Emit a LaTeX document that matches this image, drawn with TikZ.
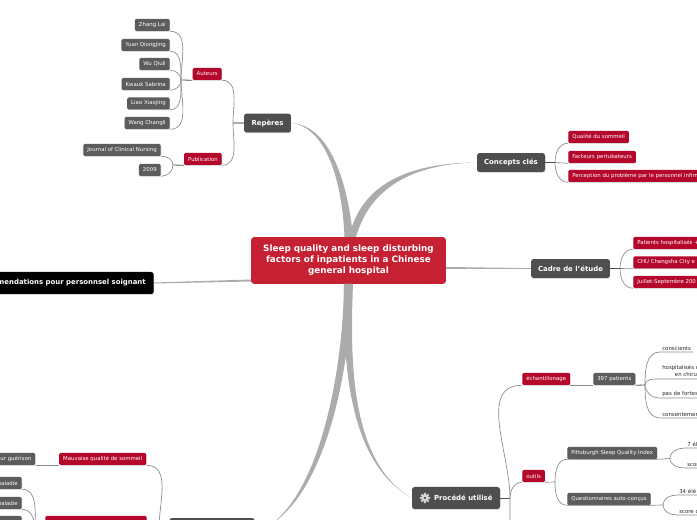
\documentclass[tikz,border=0pt]{standalone}
\usepackage{fontspec}
\setmainfont{DejaVu Sans}
\usepackage{xcolor}
\usepackage{tikz}
\usetikzlibrary{calc,shadows}
\definecolor{cRoot}{HTML}{C62033}
\definecolor{cRed}{HTML}{B5062C}
\definecolor{cSlate}{HTML}{4E4E4C}
\definecolor{cLeaf}{HTML}{5C5C5C}
\definecolor{cTrunk}{HTML}{ABADAB}
\definecolor{cLimb}{HTML}{8A8A8A}
\tikzset{
  softshadow/.style={drop shadow={shadow xshift=0.2pt,shadow yshift=-0.5pt,opacity=0.22,fill=black}},
  rootbox/.style={fill=cRoot,text=white,rounded corners=2.5pt,font=\fontsize{6.6}{8.3}\selectfont\bfseries,align=center,minimum width=146.2pt,minimum height=35.2pt,inner sep=0pt},
  topicbox/.style={fill=cSlate,text=white,rounded corners=2pt,font=\fontsize{5.2}{6}\selectfont\bfseries,minimum height=14.2pt,inner xsep=5pt,inner ysep=0pt,softshadow},
  redbox/.style={fill=cRed,text=white,rounded corners=1pt,font=\fontsize{4.05}{4.7}\selectfont,minimum height=9pt,inner xsep=3pt,inner ysep=0pt,softshadow},
  leafbox/.style={fill=cLeaf,text=white,rounded corners=1pt,font=\fontsize{4.05}{4.7}\selectfont,minimum height=9pt,inner xsep=3pt,inner ysep=0pt,softshadow},
  plainbox/.style={text=black!85,font=\fontsize{4.05}{4.6}\selectfont,align=left,inner xsep=1.5pt,inner ysep=1.2pt},
  trunk/.style={fill=cTrunk,draw=none},
  limb/.style={draw=cLimb,line width=0.5pt},
  stub/.style={draw=cSlate,line width=0.6pt},
}
\begin{document}
\begin{tikzpicture}[x=0.75pt,y=-0.75pt]
  \useasboundingbox (0,0) rectangle (697,520);
  \clip (0,0) rectangle (697,520);
  % main nodes
  \node[rootbox] (root) at (348.5,260.5) {Sleep quality and sleep disturbing\\factors of inpatients in a Chinese\\general hospital};
  \node[topicbox,minimum width=35.2pt] (reperes) at (267.5,123) {Repères};
  \node[topicbox,minimum width=51pt] (concepts) at (511,162.5) {Concepts clés};
  \node[topicbox,minimum width=59.2pt] (cadre) at (570.5,268.5) {Cadre de l'étude};
  \node[topicbox,minimum width=66pt,minimum height=16.5pt,inner xsep=0pt] (procede) at (456,498) {\hspace{11pt}Procédé utilisé};
  \node[topicbox,fill=black,minimum height=16.5pt,inner xsep=6pt,anchor=east] (recos) at (154,283) {Recommendations pour personnsel soignant};
  \node[topicbox,minimum width=64pt,minimum height=14.2pt] (analyse) at (212,527.5) {};
  % gear of the method node
  \fill[white!85!black] (425,498) circle (3.9);
  \foreach \a in {0,45,...,315}
    \fill[white!85!black] ($(425,498)+(\a-14:3.5)$) -- ($(425,498)+(\a-10:5.2)$) -- ($(425,498)+(\a+10:5.2)$) -- ($(425,498)+(\a+14:3.5)$) -- cycle;
  \fill[cSlate] (425,498) circle (1.3);
  % big branches
  \fill[trunk] (344.5,237) .. controls (342,178) and (325,127) .. (reperes.east) .. controls (327,125) and (347,175) .. (353,237) -- cycle;
  \fill[trunk] (349,237) .. controls (361,184) and (408,163) .. (concepts.west) .. controls (412,164) and (370,188) .. (356,237) -- cycle;
  \fill[trunk] (root.east |- 0,267) -- ($(cadre.west)+(0,-0.4)$) -- ($(cadre.west)+(0,0.4)$) -- (root.east |- 0,269) -- cycle;
  \fill[trunk] (root.west |- 0,279.5) -- ($(recos.east)+(0,-0.5)$) -- ($(recos.east)+(0,0.5)$) -- (root.west |- 0,281.5) -- cycle;
  \fill[trunk] (344,284) .. controls (343,360) and (347,462) .. (procede.west) .. controls (350,462) and (350,360) .. (353,284) -- cycle;
  \fill[trunk] (344,284) .. controls (343,372) and (320,490) .. (270,525) .. controls (326,490) and (350,372) .. (352,284) -- cycle;
  % Reperes side
  \node[redbox,anchor=east] (auteurs) at (222,74) {Auteurs};
  \node[redbox,anchor=east] (publi) at (222,159) {Publication};
  \node[leafbox,anchor=east] (zhang) at (170,25) {Zhang Lai};
  \node[leafbox,anchor=east] (yuan) at (170,45) {Yuan Qiongjing};
  \node[leafbox,anchor=east] (wu) at (170,64) {Wu Qiuli};
  \node[leafbox,anchor=east] (kwauk) at (170,84) {Kwauk Sabrina};
  \node[leafbox,anchor=east] (liao) at (170,103.5) {Liao Xiaojing};
  \node[leafbox,anchor=east] (wang) at (170,123) {Wang Changli};
  \node[leafbox,anchor=east] (journal) at (161,150) {Journal of Clinical Nursing};
  \node[leafbox,anchor=east] (annee) at (161,170) {2009};
  \coordinate (hubRep) at (233,123);
  \coordinate (hubAut) at (181,80);
  \coordinate (hubPub) at (173,165);
  \draw[draw=cTrunk,line width=0.9pt] (reperes.west) -- (hubRep);
  \draw[limb] (auteurs.south east) to[out=0,in=90] (hubRep);
  \draw[limb] (publi.south east) to[out=0,in=-90] (hubRep);
  \draw[stub] (auteurs.south west) -- (hubAut);
  \draw[stub] (publi.south west) -- (hubPub);
  \foreach \n in {zhang,yuan,wu}
    \draw[limb] (\n.south east) to[out=0,in=90] (hubAut);
  \foreach \n in {kwauk,liao,wang}
    \draw[limb] (\n.south east) to[out=0,in=-90] (hubAut);
  \draw[limb] (journal.south east) to[out=0,in=90] (hubPub);
  \draw[limb] (annee.south east) to[out=0,in=-90] (hubPub);
  % Concepts and Cadre
  \node[redbox,anchor=west] (qualite) at (568,137) {Qualité du sommeil};
  \node[redbox,anchor=west] (facteurs) at (568,157) {Facteurs pertubateurs};
  \node[redbox,anchor=west] (percep) at (568,176) {Perception du problème par le personnel infirmier};
  \node[redbox,anchor=west] (patients) at (633,243) {Patients hospitalisés +\hspace{30pt}};
  \node[redbox,anchor=west] (chu) at (633,262.5) {CHU Changsha City e\hspace{30pt}};
  \node[redbox,anchor=west] (juillet) at (633,282) {Juillet-Septembre 200\hspace{30pt}};
  \coordinate (hubCon) at (555,162.5);
  \coordinate (hubCad) at (620,268.5);
  \draw[stub] (concepts.east) -- (hubCon);
  \draw[stub] (cadre.east) -- (hubCad);
  \draw[limb] (qualite.south west) to[out=180,in=90] (hubCon);
  \draw[limb] (percep.south west) to[out=180,in=-90] (hubCon);
  \draw[limb] (hubCon) -- (facteurs.south west);
  \draw[limb] (patients.south west) to[out=180,in=90] (hubCad);
  \draw[limb] (juillet.south west) to[out=180,in=-90] (hubCad);
  \draw[limb] (hubCad) -- (chu.south west);
  % Procede side
  \node[redbox,anchor=west] (echant) at (522,379) {échantillonage};
  \node[redbox,anchor=west] (outils) at (522,476) {outils};
  \node[leafbox,anchor=west] (effectif) at (593,379) {397 patients};
  \node[leafbox,anchor=west] (psqi) at (567,453) {Pittsburgh Sleep Quality Index};
  \node[leafbox,anchor=west] (auto) at (567,499) {Questionnaires auto-conçus};
  \coordinate (hubPro) at (510,498);
  \coordinate (hubOut) at (555,482);
  \coordinate (hubEff) at (645,385);
  \coordinate (hubPsq) at (670,458.5);
  \coordinate (hubQue) at (663,505);
  \coordinate (suitePro) at (510,525);
  \draw[stub] (procede.east) -- (hubPro);
  \draw[limb] (echant.south west) to[out=180,in=90] (hubPro) -- (suitePro);
  \draw[limb] (outils.south west) to[out=180,in=90] (hubPro);
  \draw[limb] (echant.south east) -- (effectif.south west);
  \draw[limb] (outils.south east) -- (hubOut);
  \draw[limb] (psqi.south west) to[out=180,in=90] (hubOut);
  \draw[limb] (auto.south west) to[out=180,in=-90] (hubOut);
  \draw[limb] (psqi.south west) -- (psqi.south east) -- (hubPsq);
  \draw[limb] (auto.south west) -- (auto.south east) -- (hubQue);
  \draw[stub] (effectif.south east) -- (hubEff);
  \node[plainbox,anchor=south west] (conscient) at (660,352) {conscients};
  \node[plainbox,anchor=south west,text width=48pt] (hospit) at (660,379) {hospitalisés d\\\hspace*{9.5pt}en chirurgie};
  \node[plainbox,anchor=south west,text width=48pt] (fortes) at (660,398) {pas de fortes};
  \node[plainbox,anchor=south west,text width=48pt] (consent) at (660,418) {consentement};
  \foreach \n in {conscient,hospit}
    \draw[limb] (\n.south east) -- (\n.south west) to[out=180,in=90] (hubEff);
  \foreach \n in {fortes,consent}
    \draw[limb] (\n.south east) -- (\n.south west) to[out=180,in=-90] (hubEff);
  \node[plainbox,anchor=south west,text width=30pt] (septa) at (685,448) {7 élé};
  \node[plainbox,anchor=south west,text width=30pt] (scorea) at (685,468) {score};
  \node[plainbox,anchor=south west,text width=30pt] (trentea) at (677,495) {34 élé};
  \node[plainbox,anchor=south west,text width=30pt] (scoreb) at (677,515) {score d};
  \draw[limb] (septa.south east) -- (septa.south west) to[out=180,in=90] (hubPsq);
  \draw[limb] (scorea.south east) -- (scorea.south west) to[out=180,in=-90] (hubPsq);
  \draw[limb] (trentea.south east) -- (trentea.south west) to[out=180,in=90] (hubQue);
  \draw[limb] (scoreb.south east) -- (scoreb.south west) to[out=180,in=-90] (hubQue);
  % bottom left
  \node[redbox,anchor=east] (mauvaise) at (146.5,459) {Mauvaise qualité de sommeil};
  \node[leafbox,anchor=east] (guerison) at (35.5,459) {pour guérison};
  \node[redbox,anchor=west,minimum width=76pt] (facteursb) at (45,522) {};
  \node[leafbox,anchor=east] (maladiea) at (22,483) {la maladie};
  \node[leafbox,anchor=east] (maladieb) at (22,503) {la maladie};
  \node[leafbox,anchor=east,minimum width=30pt] (maladiec) at (22,522) {};
  \coordinate (hubAna) at (159,528);
  \coordinate (hubFac) at (35,528);
  \draw[limb] (mauvaise.south east) to[out=0,in=90] (hubAna);
  \draw[limb] (guerison.south east) -- (mauvaise.south west);
  \draw[limb] (maladiea.south east) to[out=0,in=90] (hubFac);
  \draw[limb] (maladieb.south east) to[out=0,in=90] (hubFac);
\end{tikzpicture}
\end{document}
